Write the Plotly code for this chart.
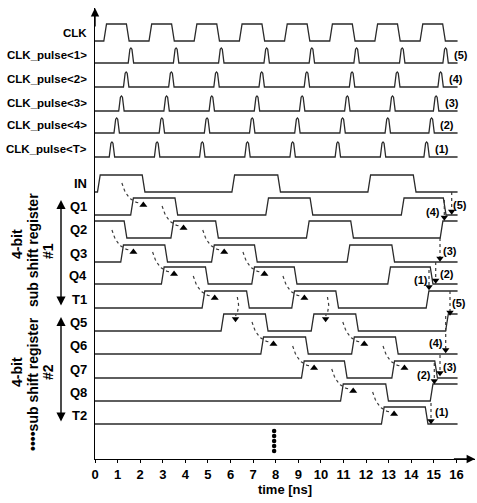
import plotly.graph_objects as go

# ---------------- data: edge / pulse times in ns ----------------
t_end = 16.05

clk_init = 0
clk_edges = [0.45, 1.45, 2.45, 3.45, 4.45, 5.45, 6.45, 7.45,
             8.45, 9.45, 10.45, 11.45, 12.45, 13.45, 14.45, 15.45]

pulse_1 = [1.59, 3.59, 5.59, 7.60, 9.60, 11.58, 13.60, 15.52]
pulse_2 = [1.38, 3.38, 5.38, 7.38, 9.38, 11.38, 13.38, 15.30]
pulse_3 = [1.17, 3.17, 5.17, 7.17, 9.17, 11.17, 13.17, 15.10]
pulse_4 = [0.96, 2.96, 4.96, 6.96, 8.96, 10.96, 12.96, 14.90]
pulse_T = [0.75, 2.75, 4.75, 6.75, 8.75, 10.75, 12.75, 14.68]

in_init, in_edges = 0, [0.17, 2.15, 6.12, 8.15, 12.14, 14.15]
q1_init, q1_edges = 0, [1.64, 3.60, 7.62, 9.58, 13.62, 15.48]
q2_init, q2_edges = 1, [1.35, 3.42, 5.40, 9.42, 11.38, 15.34]
q3_init, q3_edges = 0, [1.20, 3.15, 5.22, 7.12, 11.22, 13.20]
q4_init, q4_edges = 0, [3.00, 4.95, 7.00, 8.88, 13.02, 14.90]
t1_init, t1_edges = 0, [4.80, 6.77, 8.77, 10.72, 14.72]
q5_init, q5_edges = 0, [5.64, 7.60, 9.63, 11.60, 15.58]
q6_init, q6_edges = 0, [7.40, 9.38, 11.42, 13.36]
q7_init, q7_edges = 0, [9.20, 11.10, 13.20, 15.10]
q8_init, q8_edges = 0, [10.93, 12.93, 14.90]
t2_init, t2_edges = 0, [12.74, 14.68]

x_ticks = list(range(0, 17))

# causal arrows (row, edge time)
curved_arrows = [("Q1", 1.64), ("Q3", 1.20), ("Q4", 3.00), ("Q2", 3.42), ("T1", 4.80),
                 ("Q3", 5.22), ("Q4", 7.00), ("Q6", 7.40), ("T1", 8.77), ("Q7", 9.20),
                 ("Q8", 10.93), ("Q6", 11.42), ("T2", 12.74), ("Q7", 13.20)]
vertical_arrows = [("Q5", 5.64), ("Q5", 9.63)]

# ---------------- layout helpers ----------------
W, H = 477, 503
ML, MR, MT, MB = 95, 2, 8, 44
PLOT_W = W - ML - MR
PX_PER_NS = 22.59
X_MAX = PLOT_W / PX_PER_NS
Y_MAX = H - MT - MB          # y axis in pixel-sized units above the time axis
AXIS_PY = H - MB


def X(px):
    return (px - ML) / PX_PER_NS


def Y(py):
    return AXIS_PY - py


def PXp(px):   # paper x
    return (px - ML) / PLOT_W


def PYp(py):   # paper y
    return (AXIS_PY - py) / Y_MAX


FONT = "Liberation Sans, Arial, sans-serif"
LINE = "#2a2a2a"
DOT = "#3a3a3a"

AMP = 17
PAMP = 15
row_base = {
    "CLK": Y(41), "P1": Y(63), "P2": Y(87), "P3": Y(111), "P4": Y(133), "PT": Y(157),
    "IN": Y(192), "Q1": Y(215), "Q2": Y(238), "Q3": Y(262), "Q4": Y(284), "T1": Y(308),
    "Q5": Y(331), "Q6": Y(354), "Q7": Y(378), "Q8": Y(401), "T2": Y(424),
}


def wave(init, edges, tr=0.12):
    xs, ys, lv = [0.0], [init], init
    for e in edges:
        xs += [e - tr / 2, e + tr / 2]
        ys += [lv, 1 - lv]
        lv = 1 - lv
    xs.append(t_end)
    ys.append(lv)
    return xs, ys


P_DT = [-0.12, -0.075, -0.045, 0.0, 0.045, 0.075, 0.12]
P_LV = [0, 0.55, 0.92, 1, 0.92, 0.55, 0]


def pulses(centers):
    xs, ys = [0.0], [0]
    for c in centers:
        xs += [c + d for d in P_DT]
        ys += P_LV
    xs.append(t_end)
    ys.append(0)
    return xs, ys


fig = go.Figure()

digital = [("CLK", clk_init, clk_edges), ("IN", in_init, in_edges),
           ("Q1", q1_init, q1_edges), ("Q2", q2_init, q2_edges), ("Q3", q3_init, q3_edges),
           ("Q4", q4_init, q4_edges), ("T1", t1_init, t1_edges), ("Q5", q5_init, q5_edges),
           ("Q6", q6_init, q6_edges), ("Q7", q7_init, q7_edges), ("Q8", q8_init, q8_edges),
           ("T2", t2_init, t2_edges)]
for name, init, edges in digital:
    xs, ys = wave(init, edges)
    fig.add_trace(go.Scatter(x=xs, y=[row_base[name] + AMP * v for v in ys], mode="lines",
                             line=dict(color=LINE, width=1.3), hoverinfo="skip", showlegend=False))

pulse_rows = [("P1", pulse_1), ("P2", pulse_2), ("P3", pulse_3), ("P4", pulse_4), ("PT", pulse_T)]
for name, cs in pulse_rows:
    xs, ys = pulses(cs)
    fig.add_trace(go.Scatter(x=xs, y=[row_base[name] + PAMP * v for v in ys], mode="lines",
                             line=dict(color=LINE, width=1.3), hoverinfo="skip", showlegend=False))


def bezier(p0, p1, p2, n=14):
    out_x, out_y = [], []
    for i in range(n + 1):
        s = i / n
        out_x.append((1 - s) ** 2 * p0[0] + 2 * (1 - s) * s * p1[0] + s * s * p2[0])
        out_y.append((1 - s) ** 2 * p0[1] + 2 * (1 - s) * s * p1[1] + s * s * p2[1])
    return out_x, out_y


head_x, head_y = [], []
for row, e in curved_arrows:
    hi = row_base[row] + AMP
    bx, by = bezier((e - 0.45, hi + 15), (e - 0.22, hi - 4), (e + 0.36, hi - 5))
    fig.add_trace(go.Scatter(x=bx, y=by, mode="lines", line=dict(color=DOT, width=1.2, dash="dot"),
                             hoverinfo="skip", showlegend=False))
    head_x.append(e + 0.5)
    head_y.append(hi - 7)
fig.add_trace(go.Scatter(x=head_x, y=head_y, mode="markers",
                         marker=dict(symbol="triangle-up", size=7, color="black"),
                         hoverinfo="skip", showlegend=False))

vh_x, vh_y = [], []
for row, e in vertical_arrows:
    hi = row_base[row] + AMP
    bx, by = bezier((e + 0.66, hi + 17), (e + 0.8, hi + 6), (e + 0.58, hi - 2))
    fig.add_trace(go.Scatter(x=bx, y=by, mode="lines", line=dict(color=DOT, width=1.2, dash="dot"),
                             hoverinfo="skip", showlegend=False))
    vh_x.append(e + 0.58)
    vh_y.append(hi - 5)

# right-hand dotted markers with (n) labels: x_px, y_from_px, y_to_px, label, label_x_px, label_y_px
right_marks = [
    (451.7, 192, 210, "(5)", 460, 205),
    (444.3, 200, 216, "(4)", 433, 211.7),
    (440.0, 238, 257, "(3)", 450, 250.7),
    (435.7, 262, 279, "(2)", 446.7, 274),
    (429.0, 270, 285.5, "(1)", 420.7, 280),
    (450.0, 291, 311, "(5)", 459.3, 303.3),
    (445.7, 316, 348.5, "(4)", 435.7, 343.3),
    (440.0, 355, 371.5, "(3)", 450, 366.7),
    (434.3, 363, 379.5, "(2)", 424, 375),
    (431.0, 403, 419.5, "(1)", 441.7, 411.7),
]
for xp, y0, y1, lab, lx, ly in right_marks:
    fig.add_trace(go.Scatter(x=[X(xp), X(xp)], y=[Y(y0), Y(y1)], mode="lines",
                             line=dict(color=DOT, width=1.2, dash="dot"),
                             hoverinfo="skip", showlegend=False))
    vh_x.append(X(xp))
    vh_y.append(Y(y1 + 1.5))
fig.add_trace(go.Scatter(x=vh_x, y=vh_y, mode="markers",
                         marker=dict(symbol="triangle-down", size=6.5, color="black"),
                         hoverinfo="skip", showlegend=False))

# vertical ellipsis at t = 8
dots_t = [7.93] * 5
dots_py = [431, 436, 441, 446, 451]
fig.add_trace(go.Scatter(x=dots_t, y=[Y(p) for p in dots_py], mode="markers",
                         marker=dict(size=4.5, color="black"), hoverinfo="skip", showlegend=False))

ann = []
for xp, y0, y1, lab, lx, ly in right_marks:
    ann.append(dict(x=X(lx), y=Y(ly), text="<b>%s</b>" % lab, showarrow=False,
                    font=dict(family=FONT, size=11, color="black"), xanchor="center", yanchor="middle"))

# pulse labels (1)..(5) after the last pulses
pulse_tags = [("P1", pulse_1, "(5)"), ("P2", pulse_2, "(4)"), ("P3", pulse_3, "(3)"),
              ("P4", pulse_4, "(2)"), ("PT", pulse_T, "(1)")]
for name, cs, lab in pulse_tags:
    ann.append(dict(x=cs[-1] + 0.3, y=row_base[name] + 8, text="<b>%s</b>" % lab, showarrow=False,
                    font=dict(family=FONT, size=11, color="black"), xanchor="left", yanchor="middle"))

# row labels (paper coordinates, left of the plot)
labels_small = [("CLK", "CLK"), ("P1", "CLK_pulse&lt;1&gt;"), ("P2", "CLK_pulse&lt;2&gt;"),
                ("P3", "CLK_pulse&lt;3&gt;"), ("P4", "CLK_pulse&lt;4&gt;"), ("PT", "CLK_pulse&lt;T&gt;")]
for key, txt in labels_small:
    yy = row_base[key] + (AMP / 2 if key == "CLK" else 8)
    ann.append(dict(xref="paper", yref="paper", x=PXp(88.5), y=yy / Y_MAX, text="<b>%s</b>" % txt,
                    showarrow=False, font=dict(family=FONT, size=11.5, color="black"),
                    xanchor="right", yanchor="middle"))
for key in ["IN", "Q1", "Q2", "Q3", "Q4", "T1", "Q5", "Q6", "Q7", "Q8", "T2"]:
    ann.append(dict(xref="paper", yref="paper", x=PXp(89), y=(row_base[key] + AMP / 2) / Y_MAX,
                    text="<b>%s</b>" % key, showarrow=False,
                    font=dict(family=FONT, size=13, color="black"), xanchor="right", yanchor="middle"))

# group labels (rotated)
for txt, xp, yp in [("4-bit", 17, 244), ("sub shift register", 33, 250), ("#1", 48, 251),
                    ("4-bit", 17, 372), ("••••sub shift register", 33, 384), ("#2", 48, 372)]:
    ann.append(dict(xref="paper", yref="paper", x=PXp(xp), y=PYp(yp), text="<b>%s</b>" % txt,
                    showarrow=False, textangle=-90,
                    font=dict(family=FONT, size=14, color="black"), xanchor="center", yanchor="middle"))

# double-headed group arrows
for top, bot in [(200, 307), (317, 423)]:
    ann.append(dict(xref="paper", yref="paper", x=PXp(61), y=PYp(top), ax=0, ay=bot - top,
                    axref="pixel", ayref="pixel",
                    text="", showarrow=True, arrowhead=2, startarrowhead=2, arrowside="end+start",
                    arrowsize=1.3, startarrowsize=1.3, arrowwidth=1.4, arrowcolor="black"))

# axis arrows
ann.append(dict(x=X_MAX, y=0, ax=X_MAX - 1.0, ay=0, xref="x", yref="y", axref="x", ayref="y",
                text="", showarrow=True, arrowhead=2, arrowsize=1.2, arrowwidth=1.4, arrowcolor="black"))
ann.append(dict(x=0, y=Y_MAX, ax=0, ay=Y_MAX - 20, xref="x", yref="y", axref="x", ayref="y",
                text="", showarrow=True, arrowhead=2, arrowsize=1.2, arrowwidth=1.4, arrowcolor="black"))

fig.update_layout(
    width=W, height=H, margin=dict(l=ML, r=MR, t=MT, b=MB),
    paper_bgcolor="white", plot_bgcolor="white",
    annotations=ann, showlegend=False,
    xaxis=dict(range=[0, X_MAX], tickvals=x_ticks, ticks="outside", ticklen=3, tickwidth=1,
               tickcolor="black", showline=True, linecolor="black", linewidth=1.4,
               showgrid=False, zeroline=False,
               tickfont=dict(family=FONT, size=13, color="black", weight="bold"),
               title=dict(text="<b>time [ns]</b>", font=dict(family=FONT, size=13, color="black"),
                          standoff=4)),
    yaxis=dict(range=[0, Y_MAX], showline=True, linecolor="black", linewidth=1.4,
               showgrid=False, zeroline=False, showticklabels=False, ticks=""),
)

fig.write_html("out.html")
